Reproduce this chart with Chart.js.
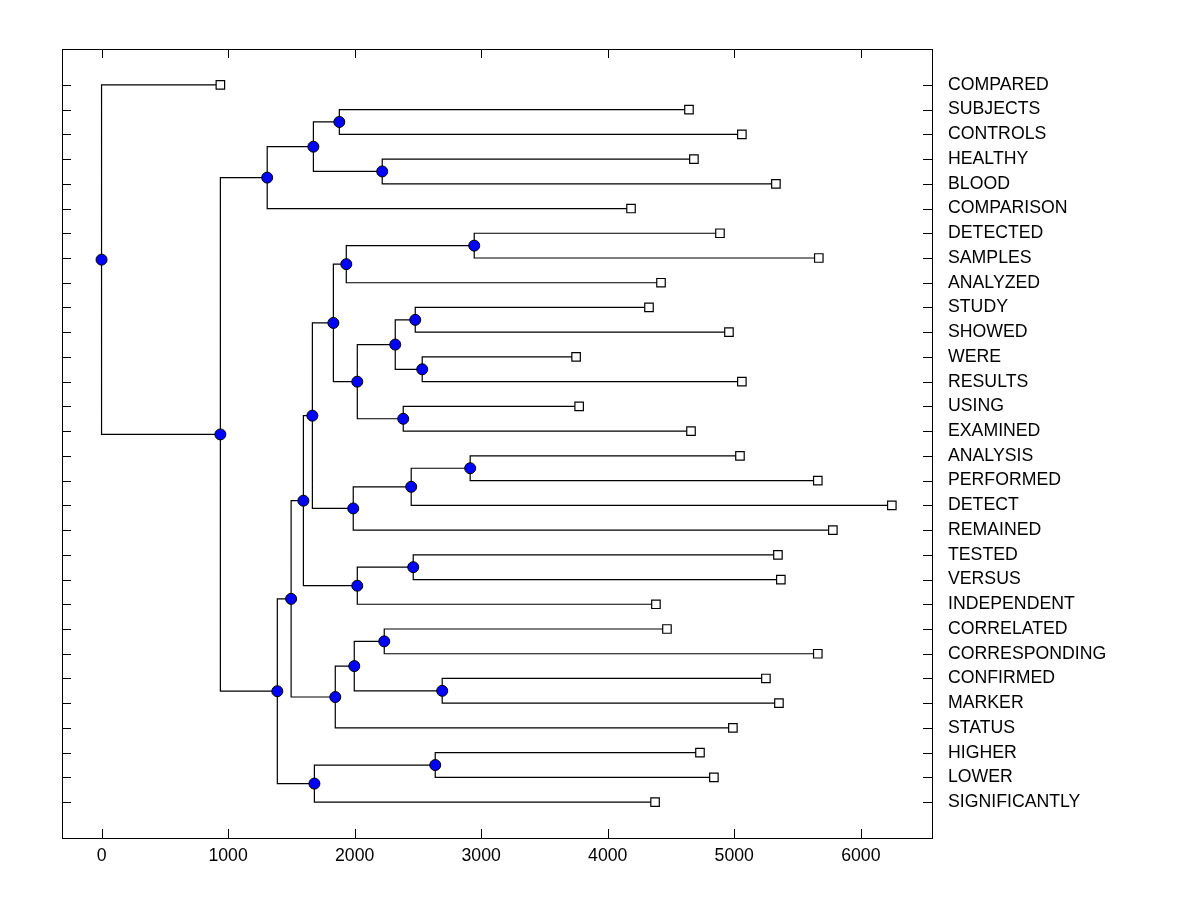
<!DOCTYPE html>
<html>
<head>
<meta charset="utf-8">
<title>Term dendrogram</title>
<script src="https://cdn.jsdelivr.net/npm/chart.js@4.4.1/dist/chart.umd.min.js"></script>
<style>
  html, body { margin: 0; padding: 0; background: #fff; }
  #wrap { width: 1200px; height: 900px; }
</style>
</head>
<body>
<div id="wrap"><canvas id="dendro" width="1200" height="900"></canvas></div>
<script>
// leaves, top to bottom
const terms = [
    'COMPARED', 'SUBJECTS', 'CONTROLS', 'HEALTHY', 'BLOOD', 'COMPARISON',
    'DETECTED', 'SAMPLES', 'ANALYZED', 'STUDY', 'SHOWED', 'WERE', 'RESULTS',
    'USING', 'EXAMINED', 'ANALYSIS', 'PERFORMED', 'DETECT', 'REMAINED',
    'TESTED', 'VERSUS', 'INDEPENDENT', 'CORRELATED', 'CORRESPONDING',
    'CONFIRMED', 'MARKER', 'STATUS', 'HIGHER', 'LOWER', 'SIGNIFICANTLY'
];
const termScores = [
    939, 4642, 5060, 4681, 5329, 4184,
    4887, 5668, 4421, 4326, 4958, 3750, 5060,
    3774, 4658, 5045, 5660, 6245, 5779,
    5345, 5368, 4381, 4468, 5660,
    5250, 5353, 4989, 4729, 4839, 4374
];
// [childA, childB, level]; ids < 30 are leaves, id 30 + k is merge k
const merges = [
    [1, 2, 1879],
    [3, 4, 2218],
    [30, 31, 1674],
    [32, 5, 1309],
    [6, 7, 2945],
    [34, 8, 1934],
    [9, 10, 2479],
    [11, 12, 2534],
    [36, 37, 2321],
    [13, 14, 2384],
    [38, 39, 2021],
    [35, 40, 1832],
    [15, 16, 2913],
    [42, 17, 2447],
    [43, 18, 1989],
    [41, 44, 1666],
    [19, 20, 2463],
    [46, 21, 2021],
    [45, 47, 1595],
    [22, 23, 2234],
    [24, 25, 2692],
    [49, 50, 1997],
    [51, 26, 1847],
    [48, 52, 1498],
    [27, 28, 2637],
    [54, 29, 1682],
    [53, 55, 1389],
    [33, 56, 939],
    [0, 57, 0]
];
const xTickValues = [0, 1000, 2000, 3000, 4000, 5000, 6000];

const FONT = 'Arial, "Liberation Sans", sans-serif';

// row of a leaf = its index + 1, row of a merge = middle of its children
const nodes = terms.map((t, i) => ({ x: termScores[i], y: i + 1 }));
merges.forEach(([a, b, level]) => {
    nodes.push({ x: level, y: (nodes[a].y + nodes[b].y) / 2 });
});

const links = [];
merges.forEach(([a, b], k) => {
    const n = nodes[terms.length + k];
    links.push(
        { x: nodes[a].x, y: nodes[a].y },
        { x: n.x, y: nodes[a].y },
        { x: n.x, y: nodes[b].y },
        { x: nodes[b].x, y: nodes[b].y },
        { x: null, y: null }
    );
});

const leafPoints = nodes.slice(0, terms.length);
const mergePoints = nodes.slice(terms.length);

// box round the plot with inward tick marks on all four sides
const framePlugin = {
    id: 'frame',
    beforeDatasetsDraw(chart) {
        const { ctx, chartArea: a, scales: { x, y } } = chart;
        ctx.save();
        ctx.strokeStyle = '#000';
        ctx.lineWidth = 1;
        ctx.strokeRect(Math.round(a.left) + 0.5, Math.round(a.top) + 0.5,
            Math.round(a.width), Math.round(a.height));
        ctx.beginPath();
        x.ticks.forEach(t => {
            const px = Math.round(x.getPixelForValue(t.value)) + 0.5;
            ctx.moveTo(px, a.bottom); ctx.lineTo(px, a.bottom - 9);
            ctx.moveTo(px, a.top); ctx.lineTo(px, a.top + 9);
        });
        y.ticks.forEach(t => {
            const py = Math.round(y.getPixelForValue(t.value)) + 0.5;
            ctx.moveTo(a.left, py); ctx.lineTo(a.left + 9, py);
            ctx.moveTo(a.right, py); ctx.lineTo(a.right - 9, py);
        });
        ctx.stroke();
        ctx.restore();
    }
};

new Chart(document.getElementById('dendro').getContext('2d'), {
    type: 'scatter',
    data: {
        datasets: [
            {
                label: 'merges',
                data: mergePoints,
                order: 0,
                pointStyle: 'circle',
                pointRadius: 5.5,
                backgroundColor: '#0000ff',
                borderColor: '#000',
                borderWidth: 1
            },
            {
                label: 'terms',
                data: leafPoints,
                order: 1,
                pointStyle: 'rect',
                pointRadius: 6,
                backgroundColor: '#fff',
                borderColor: '#000',
                borderWidth: 1.2
            },
            {
                label: 'links',
                data: links,
                order: 2,
                showLine: true,
                spanGaps: false,
                pointRadius: 0,
                borderColor: '#000',
                borderWidth: 1.2
            }
        ]
    },
    options: {
        responsive: false,
        devicePixelRatio: 1,
        animation: false,
        layout: {
            padding: { left: 62, top: 49, right: 0, bottom: 0 }
        },
        plugins: {
            legend: { display: false },
            tooltip: { enabled: false }
        },
        scales: {
            x: {
                type: 'linear',
                position: 'bottom',
                min: -312.5,
                max: 6562.5,
                afterBuildTicks: s => { s.ticks = xTickValues.map(v => ({ value: v })); },
                afterFit: s => { s.height = 62; },
                grid: { display: false, drawTicks: false },
                border: { display: false },
                ticks: {
                    color: '#000',
                    padding: 7,
                    maxRotation: 0,
                    font: { family: FONT, size: 17.7 },
                    callback: v => String(v)
                }
            },
            y: {
                type: 'linear',
                position: 'right',
                reverse: true,
                min: -0.45,
                max: 31.45,
                afterBuildTicks: s => { s.ticks = terms.map((t, i) => ({ value: i + 1 })); },
                afterFit: s => { s.width = 268; },
                grid: { display: false, drawTicks: false },
                border: { display: false },
                ticks: {
                    color: '#000',
                    padding: 16,
                    autoSkip: false,
                    font: { family: FONT, size: 17.7 },
                    callback: (v, i) => terms[i]
                }
            }
        }
    },
    plugins: [framePlugin]
});
</script>
</body>
</html>
